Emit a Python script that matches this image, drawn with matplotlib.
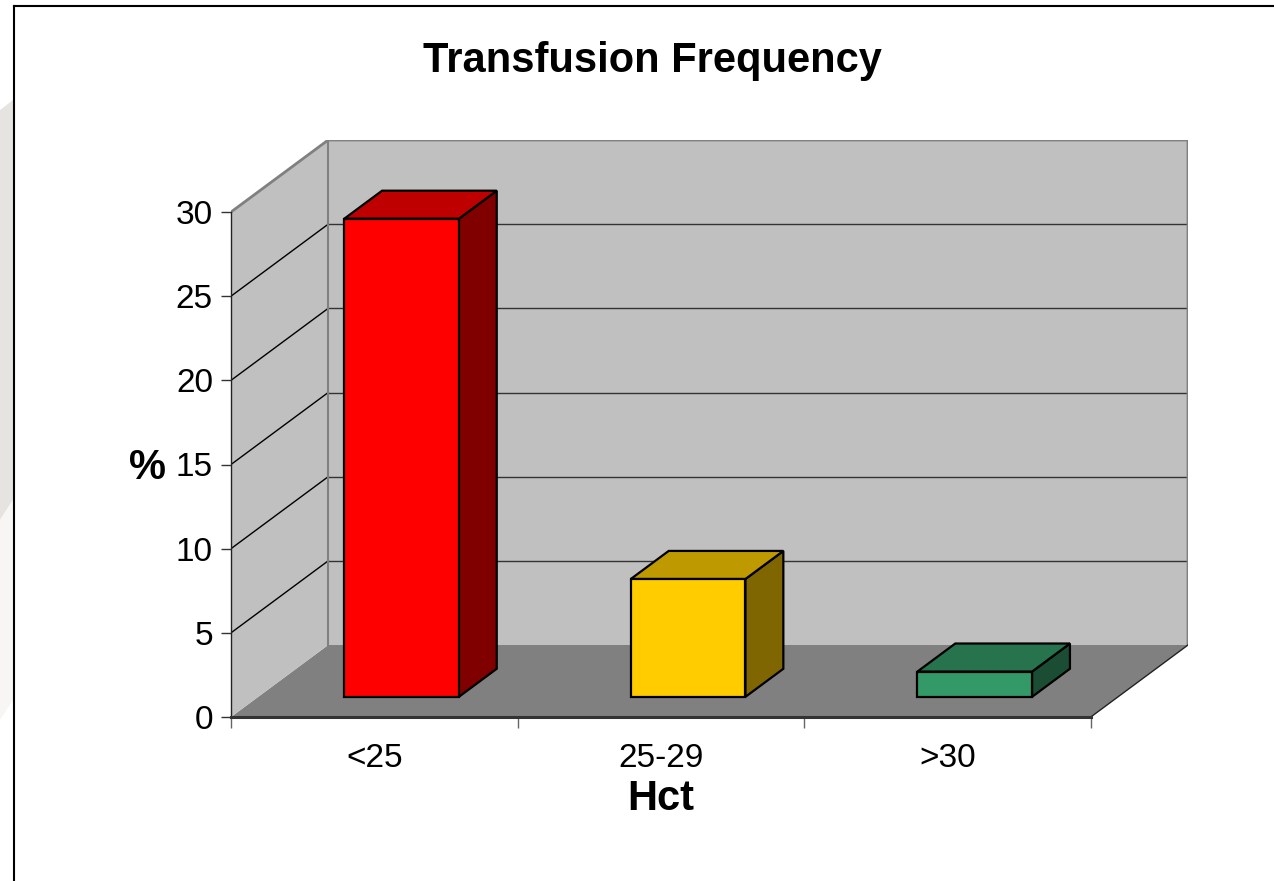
import matplotlib
matplotlib.use("Agg")
import matplotlib.pyplot as plt
from matplotlib.patches import Polygon
from matplotlib.lines import Line2D
from matplotlib.colors import to_rgb

plt.rcParams['font.family'] = ['Liberation Sans', 'DejaVu Sans']

# ---- data ----
categories = ['<25', '25-29', '>30']
values = [28.4, 7.0, 1.5]
bar_colors = ['#FF0000', '#FFCC00', '#339966']
y_ticks = [0, 5, 10, 15, 20, 25, 30]

# ---- 3D oblique geometry (in data units) ----
Y_MAX = 30
DX = 97 / 286          # depth shift along x (category units)
DY = 72 / (505 / 30)   # depth shift along y (value units)
Z_FRONT, Z_BACK = 0.28, 0.67   # bar depth span (fraction of full depth)
HALF_W = 0.2

WALL = '#C0C0C0'
FLOOR = '#808080'


def proj(x, y, z):
    return (x + z * DX, y + z * DY)


def shade(color, f):
    r, g, b = to_rgb(color)
    return (r * f, g * f, b * f)


W, H = 1274, 881
fig = plt.figure(figsize=(W / 100, H / 100), dpi=100)
fig.patch.set_facecolor('white')

# faint decoration at the left margin
fig.add_artist(Polygon([(0, 1 - 110 / H), (13 / W, 1 - 100 / H), (13 / W, 1 - 500 / H),
                        (0, 1 - 520 / H)], closed=True, transform=fig.transFigure,
                       facecolor='#E6E4E1', edgecolor='none', zorder=0))
fig.add_artist(Polygon([(0, 1 - 520 / H), (13 / W, 1 - 500 / H), (13 / W, 1 - 700 / H),
                        (0, 1 - 720 / H)], closed=True, transform=fig.transFigure,
                       facecolor='#F7F6F5', edgecolor='none', zorder=0))

# chart frame
fig.add_artist(Line2D([13.5 / W, 13.5 / W], [0, 1 - 6 / H], transform=fig.transFigure,
                      color='black', lw=1.5))
fig.add_artist(Line2D([13.5 / W, 1], [1 - 6 / H, 1 - 6 / H], transform=fig.transFigure,
                      color='black', lw=1.5))

ax = fig.add_axes([231 / W, (H - 717) / H, (1188 - 231) / W, (717 - 140) / H])
ax.set_xlim(0, len(categories) + DX)
ax.set_ylim(0, Y_MAX + DY)
ax.patch.set_alpha(0)

n = len(categories)

# walls and floor
floor = Polygon([proj(0, 0, 0), proj(n, 0, 0), proj(n, 0, 1), proj(0, 0, 1)],
                closed=True, facecolor=FLOOR, edgecolor='none', zorder=1)
left_wall = Polygon([proj(0, 0, 0), proj(0, 0, 1), proj(0, Y_MAX, 1), proj(0, Y_MAX, 0)],
                    closed=True, facecolor=WALL, edgecolor='none', zorder=1)
back_wall = Polygon([proj(0, 0, 1), proj(n, 0, 1), proj(n, Y_MAX, 1), proj(0, Y_MAX, 1)],
                    closed=True, facecolor=WALL, edgecolor='none', zorder=1)
for p in (floor, left_wall, back_wall):
    ax.add_patch(p)

# gridlines
for v in y_ticks[1:-1]:
    xs, ys = zip(proj(0, v, 0), proj(0, v, 1))
    ax.plot(xs, ys, color='black', lw=1.0, zorder=2)
    xs, ys = zip(proj(0, v, 1), proj(n, v, 1))
    ax.plot(xs, ys, color='#333333', lw=1.0, zorder=2)

# wall edges
edge = dict(color='#808080', lw=2, zorder=2.5, solid_capstyle='butt')
xs, ys = zip(proj(0, Y_MAX, 0), proj(0, Y_MAX, 1), proj(n, Y_MAX, 1), proj(n, 0, 1))
ax.plot(xs, ys, **edge)
xs, ys = zip(proj(0, 0, 1), proj(0, Y_MAX, 1))
ax.plot(xs, ys, color='#808080', lw=1.5, zorder=2.5)
xs, ys = zip(proj(n, 0, 0), proj(n, 0, 1))
ax.plot(xs, ys, color='#222222', lw=1.0, zorder=2.5)

# bars
for i, (v, col) in enumerate(zip(values, bar_colors)):
    c = i + 0.5
    x0, x1 = c - HALF_W, c + HALF_W
    front = [proj(x0, 0, Z_FRONT), proj(x1, 0, Z_FRONT), proj(x1, v, Z_FRONT), proj(x0, v, Z_FRONT)]
    top = [proj(x0, v, Z_FRONT), proj(x1, v, Z_FRONT), proj(x1, v, Z_BACK), proj(x0, v, Z_BACK)]
    side = [proj(x1, 0, Z_FRONT), proj(x1, 0, Z_BACK), proj(x1, v, Z_BACK), proj(x1, v, Z_FRONT)]
    for pts, f in ((side, 0.5), (top, 0.75), (front, 1.0)):
        ax.add_patch(Polygon(pts, closed=True, facecolor=shade(col, f), edgecolor='black',
                             lw=1.6, joinstyle='miter', zorder=3))

# axes
for s in ('top', 'right'):
    ax.spines[s].set_visible(False)
ax.spines['left'].set_bounds(0, Y_MAX)
ax.spines['left'].set_color('#222222')
ax.spines['left'].set_linewidth(1.0)
ax.spines['bottom'].set_bounds(0, n)
ax.spines['bottom'].set_color('#333333')
ax.spines['bottom'].set_linewidth(2.2)
ax.spines['left'].set_zorder(4)
ax.spines['bottom'].set_zorder(4)

ax.set_yticks(y_ticks)
ax.set_yticklabels([str(t) for t in y_ticks])
ax.tick_params(axis='y', direction='out', length=7, width=1, color='#333333',
               labelsize=24, pad=6)

ax.set_xticks([i + 0.5 for i in range(n)])
ax.set_xticklabels(categories)
ax.set_xticks(list(range(n + 1)), minor=True)
ax.tick_params(axis='x', which='major', length=0, labelsize=24, pad=19)
ax.tick_params(axis='x', which='minor', direction='out', length=8, width=1, color='#666666')

ax.set_xlabel('Hct', fontsize=30, fontweight='bold', va='center')
ax.xaxis.set_label_coords(1.5 / (n + DX), -(799 - 717) / (717 - 140))
ax.set_ylabel('%', fontsize=30, fontweight='bold', rotation=0, va='center', ha='center')
ax.yaxis.set_label_coords(-(231 - 148) / (1188 - 231), (717 - 468) / (717 - 140))

fig.text(652 / W, 1 - 61 / H, 'Transfusion Frequency', ha='center', va='center',
         fontsize=30, fontweight='bold')

fig.savefig('out.png', dpi=100)
